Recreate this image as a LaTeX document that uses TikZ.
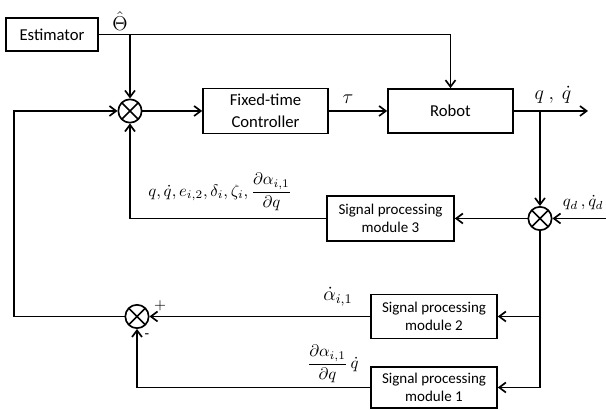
\documentclass[tikz,border=0pt]{standalone}
\usepackage{amsmath}
\usepackage{fontspec}
\setmainfont{Carlito}
\usetikzlibrary{positioning,arrows.meta}

\begin{document}
\begin{tikzpicture}[
  x=0.6pt,y=-0.6pt,
  line width=1pt,
  >={Straight Barb[length=4pt,width=6pt]},
  block/.style={draw,line width=1pt,minimum width=75pt,minimum height=26.4pt,align=center,font=\normalsize},
  spm/.style={block,minimum width=75.6pt,font=\small},
  sum/.style={circle,draw,line width=1pt,minimum size=14pt,inner sep=0pt,
    path picture={\draw[line width=1pt]
      ([shift={(45:8pt)}]path picture bounding box.center) -- ([shift={(225:8pt)}]path picture bounding box.center)
      ([shift={(135:8pt)}]path picture bounding box.center) -- ([shift={(315:8pt)}]path picture bounding box.center);}}
]
  \useasboundingbox (0,0) rectangle (606,410);

  % forward path
  \node[block,minimum width=55.2pt,minimum height=19.8pt] (est) at (52,34.5) {Estimator};
  \node[sum] (s1) at (130,111) {};
  \node[block] (ctrl) at (265.5,111) {Fixed-time\\[1.5pt]Controller};
  \node[block] (robot) at (450.5,111) {Robot};
  \node[sum] (s2) at (540,218.5) {};

  % signal processing modules
  \node[spm,minimum width=76.2pt,minimum height=27pt] (spm3) at (390.5,218.5) {Signal processing\\module 3};
  \node[spm] (spm2) at (434,316.5) {Signal processing\\module 2};
  \node[spm,minimum height=24.6pt] (spm1) at (434,387.5) {Signal processing\\module 1};
  \node[sum] (s3) at (137,316.5) {};

  % labels
  \node[font=\large] (lth) at (120,21) {$\hat{\Theta}$};
  \node[font=\large] (ltau) at (348,99) {$\tau$};
  \node[font=\large] (lq) at (553,95) {$q\ ,\ \dot q$};
  \node[anchor=east,inner sep=1pt] (lqd) at (606,203) {$q_d\,,\dot q_d$};
  \node (lfb) at (220,192) {$q,\dot q,e_{i,2},\delta_i,\zeta_i,\dfrac{\partial\alpha_{i,1}}{\partial q}$};
  \node[font=\large] (lad) at (338,297) {$\dot\alpha_{i,1}$};
  \node (lpd) at (333,364) {$\dfrac{\partial\alpha_{i,1}}{\partial q}\,\dot q$};
  \node[font=\small] (lplus) at (160,306) {$+$};
  \node[font=\small] (lminus) at (147,336) {-};

  \coordinate (qout) at (588,111);
  \coordinate (qdin) at (606,218.5);
  \coordinate (fb) at (14,316.5);

  \draw[->] (est.east) -| (robot.north);
  \draw[->] (est.east -| s1) -- (s1.north);
  \draw[->] (s1) -- (ctrl);
  \draw[->] (ctrl) -- (robot);
  \draw[->] (robot) -- (qout);
  \draw[->] (robot.east -| s2) -- (s2);
  \draw[->] (qdin) -- (s2);
  \draw[->] (s2) -- (spm3);
  \draw[->] (spm3) -| (s1);
  \draw[->] (s2) |- (spm1);
  \draw[->] (s2 |- spm2) -- (spm2);
  \draw[->] (spm2) -- (s3);
  \draw[->] (spm1) -| (s3);
  \draw[->] (s3) -- (fb) |- (s1);
\end{tikzpicture}
\end{document}
